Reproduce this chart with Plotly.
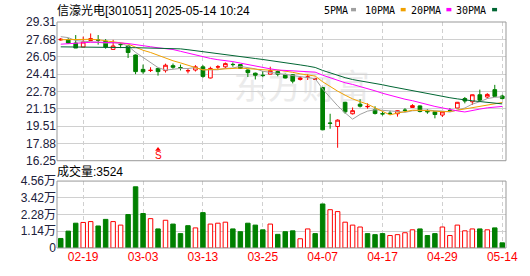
import plotly.graph_objects as go

# ---------------- data ----------------
dates = ["02-14", "02-17", "02-18", "02-19", "02-20", "02-21", "02-24", "02-25", "02-26", "02-27",
         "02-28", "03-03", "03-04", "03-05", "03-06", "03-07", "03-10", "03-11", "03-12", "03-13",
         "03-14", "03-17", "03-18", "03-19", "03-20", "03-21", "03-24", "03-25", "03-26", "03-27",
         "03-28", "03-31", "04-01", "04-02", "04-03", "04-07", "04-08", "04-09", "04-10", "04-11",
         "04-14", "04-15", "04-16", "04-17", "04-18", "04-21", "04-22", "04-23", "04-24", "04-25",
         "04-28", "04-29", "04-30", "05-06", "05-07", "05-08", "05-09", "05-12", "05-13", "05-14"]

opens = [27.62, 27.63, 27.33, 26.95, 27.57, 27.62, 27.50, 26.73, 27.20, 27.05,
         26.20, 24.85, 24.74, 24.94, 24.73, 25.20, 25.02, 24.71, 24.79, 25.09,
         24.04, 25.07, 25.09, 25.32, 25.30, 24.79, 24.49, 24.30, 24.40, 24.64,
         24.34, 24.34, 23.90, 24.11, 23.92, 23.14, 19.80, 19.47, 21.75, 20.67,
         21.57, 21.33, 21.05, 20.68, 20.72, 20.67, 21.02, 21.26, 21.41, 20.90,
         20.85, 20.55, 20.98, 21.21, 22.10, 21.80, 22.46, 22.25, 22.94, 22.34]
highs = [27.80, 27.80, 28.08, 27.93, 28.23, 28.08, 27.70, 27.63, 27.35, 27.10,
         26.25, 25.30, 25.05, 24.98, 25.39, 25.40, 25.30, 24.95, 25.25, 25.25,
         25.10, 25.25, 25.50, 25.50, 25.35, 24.85, 24.55, 24.70, 25.10, 24.75,
         24.45, 24.40, 24.20, 24.40, 24.05, 23.20, 20.67, 20.15, 21.80, 21.26,
         22.04, 21.65, 21.38, 20.90, 20.95, 21.00, 21.20, 21.57, 21.45, 21.10,
         20.88, 20.88, 21.20, 21.78, 22.25, 22.48, 22.94, 22.61, 23.39, 22.46]
lows = [27.55, 27.25, 26.86, 26.95, 27.55, 27.18, 26.80, 26.70, 26.85, 25.92,
        24.40, 24.44, 24.60, 24.26, 24.55, 24.90, 24.75, 24.47, 24.65, 24.05,
        24.00, 24.85, 24.95, 25.10, 24.90, 24.13, 23.90, 24.10, 24.38, 24.20,
        24.00, 23.53, 23.80, 23.85, 23.85, 19.16, 19.26, 17.47, 20.67, 20.60,
        21.26, 21.15, 20.60, 20.50, 20.55, 20.40, 20.85, 21.24, 20.80, 20.67,
        20.24, 20.37, 20.90, 21.20, 21.65, 21.50, 21.80, 22.10, 22.25, 22.04]
closes = [27.68, 27.33, 26.86, 27.43, 27.75, 27.60, 26.96, 27.05, 27.18, 26.44,
          24.64, 24.62, 24.76, 24.64, 25.24, 25.05, 25.00, 24.73, 25.09, 24.19,
          24.94, 25.09, 25.39, 25.30, 24.94, 24.55, 24.30, 24.27, 24.73, 24.40,
          24.04, 23.74, 24.04, 24.13, 23.95, 19.16, 19.77, 20.07, 20.85, 20.96,
          21.38, 21.36, 20.70, 20.66, 20.70, 20.96, 20.99, 21.44, 20.88, 20.86,
          20.60, 20.85, 20.96, 21.75, 21.87, 22.46, 21.95, 22.49, 22.31, 22.10]
prev_close = 27.80  # close of the day before the first bar

# volume in 万 (10k)
volumes = [0.65, 1.15, 1.69, 1.74, 1.80, 1.50, 1.95, 1.80, 1.56, 2.28,
           4.17, 2.35, 2.00, 1.30, 1.89, 1.63, 0.98, 1.52, 1.37, 2.41,
           1.63, 1.69, 1.76, 1.30, 1.11, 1.69, 1.56, 1.24, 1.63, 0.93,
           1.11, 1.17, 0.63, 1.30, 0.98, 3.00, 2.61, 2.48, 1.76, 1.56,
           1.43, 0.98, 0.91, 0.98, 0.85, 0.91, 1.04, 1.24, 1.30, 0.85,
           0.98, 1.43, 0.85, 1.56, 1.17, 1.30, 1.30, 1.24, 1.37, 0.3524]

ma5 = [27.93, 27.84, 27.56, 27.48, 27.41, 27.39, 27.32, 27.36, 27.31, 27.05,
       26.45, 25.99, 25.53, 25.02, 24.78, 24.86, 24.94, 24.93, 25.02, 24.81,
       24.79, 24.81, 24.94, 24.98, 25.13, 25.05, 24.90, 24.67, 24.56, 24.45,
       24.35, 24.24, 24.19, 24.07, 23.98, 23.00, 22.21, 21.42, 20.76, 20.16,
       20.61, 20.92, 21.05, 21.01, 20.96, 20.88, 20.80, 20.95, 20.99, 21.03,
       20.95, 20.93, 20.83, 21.00, 21.21, 21.58, 21.80, 22.10, 22.22, 22.26]
ma10 = [27.64, 27.66, 27.68, 27.69, 27.68, 27.64, 27.56, 27.46, 27.35, 27.23,
        26.92, 26.65, 26.44, 26.16, 25.91, 25.66, 25.46, 25.23, 25.02, 24.80,
        24.83, 24.87, 24.94, 25.00, 24.97, 24.92, 24.85, 24.81, 24.77, 24.79,
        24.70, 24.57, 24.43, 24.31, 24.22, 23.68, 23.22, 22.80, 22.42, 22.07,
        21.81, 21.57, 21.23, 20.89, 20.56, 20.74, 20.86, 21.00, 21.00, 20.99,
        20.92, 20.86, 20.89, 21.00, 21.12, 21.27, 21.36, 21.47, 21.61, 21.73]
ma20 = [27.22, 27.28, 27.33, 27.37, 27.40, 27.41, 27.40, 27.38, 27.34, 27.28,
        27.20, 27.10, 26.98, 26.88, 26.80, 26.72, 26.55, 26.38, 26.18, 26.01,
        25.88, 25.76, 25.69, 25.58, 25.44, 25.29, 25.16, 25.02, 24.90, 24.79,
        24.76, 24.72, 24.68, 24.66, 24.59, 24.30, 24.04, 23.80, 23.59, 23.43,
        23.25, 23.07, 22.83, 22.60, 22.39, 22.21, 22.04, 21.90, 21.71, 21.53,
        21.36, 21.22, 21.06, 20.94, 20.84, 21.00, 21.11, 21.23, 21.31, 21.36]
ma30 = [26.97, 26.97, 26.97, 26.97, 26.97, 26.97, 26.95, 26.93, 26.91, 26.90,
        26.89, 26.88, 26.87, 26.86, 26.87, 26.84, 26.78, 26.70, 26.60, 26.50,
        26.41, 26.32, 26.22, 26.12, 26.04, 25.95, 25.87, 25.78, 25.69, 25.61,
        25.48, 25.36, 25.27, 25.16, 25.03, 24.75, 24.51, 24.28, 24.07, 23.89,
        23.78, 23.67, 23.53, 23.40, 23.25, 23.11, 22.98, 22.87, 22.73, 22.62,
        22.47, 22.33, 22.18, 22.07, 21.96, 21.89, 21.82, 21.76, 21.68, 21.60]

price_ticks = [16.25, 17.88, 19.51, 21.15, 22.78, 24.41, 26.05, 27.68, 29.31]
vol_ticks = [0, 1.14, 2.28, 3.42, 4.56]
vol_tick_text = ["0", "1.14万", "2.28万", "3.42万", "4.56万"]
x_ticks = ["02-19", "03-03", "03-13", "03-25", "04-07", "04-17", "04-29", "05-14"]

title_text = "信濠光电[301051] 2025-05-14 10:24"
vol_title = "成交量:3524"
ma_names = ["5PMA", "10PMA", "20PMA", "30PMA"]
signal_date = "03-05"
signal_price = 16.75

# ---------------- styles ----------------
UP = "#ff0000"
DOWN = "#008000"
MA_COLORS = ["#a0a0a0", "#f0a000", "#ff00ff", "#006633"]
AXIS_FONT = dict(family="Liberation Sans, Arial, sans-serif", size=12, color="#20203a")
GRID = "#d0d0d0"
FRAME = "#999999"

W, H = 530, 276
L, R, T, B = 57, 21, 22, 21
PW, PH = W - L - R, H - T - B
price_bottom_px, vol_top_px = 165, 186


def px_x(px):
    return (px - L) / PW


def px_y(py):
    return (H - B - py) / PH


prevs = [prev_close] + closes[:-1]
vol_up = [c >= p for c, p in zip(closes, prevs)]
vol_fill = ["#ffffff" if u else DOWN for u in vol_up]
vol_edge = [UP if u else DOWN for u in vol_up]

fig = go.Figure()
fig.add_trace(go.Candlestick(
    x=dates, open=opens, high=highs, low=lows, close=closes,
    increasing=dict(line=dict(color=UP, width=1), fillcolor="#ffffff"),
    decreasing=dict(line=dict(color=DOWN, width=1), fillcolor=DOWN),
    whiskerwidth=0, hoverinfo="skip", xaxis="x", yaxis="y"))
for vals, col in zip([ma5, ma10, ma20, ma30], MA_COLORS):
    fig.add_trace(go.Scatter(x=dates, y=vals, mode="lines", line=dict(color=col, width=1),
                             hoverinfo="skip", xaxis="x", yaxis="y"))
fig.add_trace(go.Scatter(x=[signal_date], y=[signal_price + 0.55], mode="markers",
                         marker=dict(symbol="triangle-up", size=5, color=UP),
                         hoverinfo="skip", xaxis="x", yaxis="y"))
fig.add_trace(go.Bar(x=dates, y=volumes, width=0.6,
                     marker=dict(color=vol_fill, line=dict(color=vol_edge, width=1)),
                     hoverinfo="skip", xaxis="x", yaxis="y2"))

fig.update_layout(
    width=W, height=H, margin=dict(l=L, r=R, t=T, b=B),
    paper_bgcolor="white", plot_bgcolor="white", showlegend=False,
    xaxis=dict(type="category", categoryorder="array", categoryarray=dates,
               range=[-0.5, len(dates) - 0.5], anchor="y2",
               tickmode="array", tickvals=x_ticks, ticktext=x_ticks,
               tickfont=dict(family="Liberation Sans, Arial, sans-serif", size=12, color="#ff0000"),
               showgrid=True, gridcolor=GRID, gridwidth=1, griddash="4px,3px",
               ticks="", showline=False, zeroline=False,
               rangeslider=dict(visible=False)),
    yaxis=dict(domain=[px_y(price_bottom_px), 1], range=[price_ticks[0], price_ticks[-1]],
               tickmode="array", tickvals=price_ticks,
               ticktext=[f"{v:.2f}" for v in price_ticks],
               tickfont=AXIS_FONT, showgrid=True, gridcolor=GRID, gridwidth=1,
               ticks="", zeroline=False, showline=False),
    yaxis2=dict(domain=[0, px_y(vol_top_px)], range=[vol_ticks[0], vol_ticks[-1]],
                tickmode="array", tickvals=vol_ticks, ticktext=vol_tick_text,
                tickfont=dict(family="Liberation Sans, Noto Sans CJK SC, sans-serif", size=12, color="#20203a"),
                showgrid=True, gridcolor=GRID, gridwidth=1,
                ticks="", zeroline=False, showline=False),
)

# panel frames
for yref in ["y domain", "y2 domain"]:
    fig.add_shape(type="rect", xref="x domain", yref=yref, x0=0, x1=1, y0=0, y1=1,
                  line=dict(color=FRAME, width=1), fillcolor="rgba(0,0,0,0)", layer="above")

# watermark
fig.add_shape(type="rect", xref="x domain", yref="y domain", x0=0.39, x1=0.70, y0=0.37, y1=0.65,
              line=dict(width=0), fillcolor="rgba(0,0,0,0)", layer="below",
              label=dict(text="东方财富", textposition="middle center",
                         font=dict(family="Noto Sans CJK SC", size=34, color="#ebebeb")))

# title
fig.add_annotation(xref="paper", yref="paper", x=px_x(55), y=px_y(10), xanchor="left", yanchor="middle",
                   text=title_text, showarrow=False,
                   font=dict(family="Liberation Sans, Noto Sans CJK SC, sans-serif", size=12, color="#000000"))
fig.add_annotation(xref="paper", yref="paper", x=px_x(55), y=px_y(176), xanchor="left", yanchor="middle",
                   text=vol_title, showarrow=False,
                   font=dict(family="Liberation Sans, Noto Sans CJK SC, sans-serif", size=12, color="#000000"))

# MA legend
leg_text_px = [324, 365, 411, 457]
leg_sq_px = [353, 403, 449, 495]
for name, col, tx, sx in zip(ma_names, MA_COLORS, leg_text_px, leg_sq_px):
    fig.add_annotation(xref="paper", yref="paper", x=px_x(tx), y=px_y(10), xanchor="left", yanchor="middle",
                       text=name, showarrow=False,
                       font=dict(family="DejaVu Sans Mono, monospace", size=10, color="#000000"))
    fig.add_shape(type="rect", xref="paper", yref="paper", x0=px_x(sx), x1=px_x(sx + 5),
                  y0=px_y(11), y1=px_y(7.5), line=dict(width=0), fillcolor=col)

# signal marker text
fig.add_annotation(x=signal_date, y=signal_price, xref="x", yref="y", text="S", showarrow=False,
                   font=dict(family="Liberation Sans, Arial, sans-serif", size=10, color=UP))

fig.write_html("out.html")
